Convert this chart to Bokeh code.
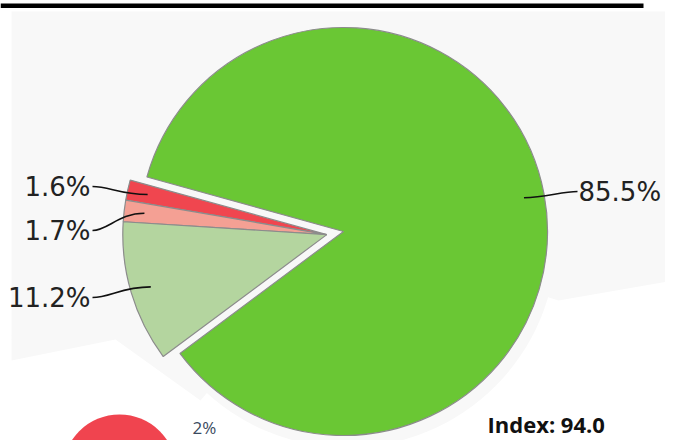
import math
from bokeh.plotting import figure
from bokeh.models import Range1d
from bokeh.core.properties import value
from bokeh.embed import file_html
from bokeh.resources import INLINE

# ---- data ----
slice_labels = ["1.6%", "1.7%", "11.2%", "85.5%"]
slice_shares = [1.6, 1.7, 11.2, 85.5]
slice_colors = ["#f0464f", "#f4a094", "#b4d59f", "#6ac734"]
slice_exploded = [True, True, True, False]
badge_text = "2%"
index_text = "Index: 94.0"

# ---- layout (picture pixel coordinates, y measured downward) ----
W, H = 665, 440


def Y(py):
    return H - py


START_DEG = 164.5
CX, CY, R = 343, 231, 204
EXPLODE = 17
label_y = {"1.6%": 186, "1.7%": 230, "11.2%": 297, "85.5%": 191}
LEFT_END_X, RIGHT_END_X = 92, 577

p = figure(width=W, height=H, x_range=Range1d(0, W), y_range=Range1d(0, H),
           output_backend="svg", toolbar_location=None, min_border=0,
           x_axis_type=None, y_axis_type=None)
p.grid.visible = False
p.outline_line_color = None
p.background_fill_color = "white"
p.border_fill_color = "white"

# background panel with shadow
bg_x = [11, 673, 673, 558, 343, 200, 115, 11]
bg_y = [Y(v) for v in [11, 11, 280, 300, 232, 400, 339, 360]]
p.patch(bg_x, bg_y, fill_color="#f8f8f8", line_color=None)
p.circle(x=[347], y=[Y(238)], radius=209, fill_color="#f8f8f8", line_color=None)

# top black bar
p.quad(left=[0], right=[643], top=[Y(3)], bottom=[Y(7.5)], fill_color="black", line_color=None)

# ---- pie ----
total = sum(slice_shares)
exp_total = sum(s for s, e in zip(slice_shares, slice_exploded) if e)
group_mid = math.radians(START_DEG + 360 * exp_total / total / 2)
ex_dx = EXPLODE * math.cos(group_mid)
ex_dy = EXPLODE * math.sin(group_mid)

acc = START_DEG
for lab, share, col, ex in zip(slice_labels, slice_shares, slice_colors, slice_exploded):
    span = 360 * share / total
    a0, a1 = acc, acc + span
    acc = a1
    cx = CX + (ex_dx if ex else 0)
    cy = Y(CY) + (ex_dy if ex else 0)
    p.wedge(x=[cx], y=[cy], radius=R, start_angle=math.radians(a0), end_angle=math.radians(a1),
            direction="anticlock", fill_color=col, line_color="#8c8c8c", line_width=1.2)
    mid = math.radians((a0 + a1) / 2)
    ax = cx + 0.9 * R * math.cos(mid)
    ay = cy + 0.9 * R * math.sin(mid)
    ly = Y(label_y[lab])
    if math.cos(mid) > 0:
        ex_x = RIGHT_END_X
        p.bezier(x0=[ax], y0=[ay], x1=[ex_x], y1=[ly], cx0=[ax + 0.4 * (ex_x - ax)], cy0=[ay],
                 cx1=[ex_x - 0.3 * (ex_x - ax)], cy1=[ly], line_color="#111111", line_width=1.6)
        p.text(x=[ex_x + 1], y=[ly], text=[lab], text_font=value("DejaVu Sans"), text_font_size="26px",
               text_align="left", text_baseline="middle", text_color="#222222")
    else:
        ex_x = LEFT_END_X
        p.bezier(x0=[ax], y0=[ay], x1=[ex_x], y1=[ly], cx0=[ax - 0.5 * (ax - ex_x)], cy0=[ay],
                 cx1=[ex_x + 0.3 * (ax - ex_x)], cy1=[ly], line_color="#111111", line_width=1.6)
        p.text(x=[ex_x - 2], y=[ly], text=[lab], text_font=value("DejaVu Sans"), text_font_size="26px",
               text_align="right", text_baseline="middle", text_color="#222222")

# ---- bottom decorations ----
p.circle(x=[119], y=[Y(471)], radius=57, fill_color="#f0444f", line_color=None)
p.text(x=[192], y=[Y(438)], text=[badge_text], text_font=value("Open Sans"), text_font_size="17px",
       text_align="left", text_baseline="bottom", text_color="#3a4a5e")
p.text(x=[487], y=[Y(438)], text=[index_text], text_font=value("Open Sans"), text_font_size="22px",
       text_font_style="bold", text_align="left", text_baseline="bottom", text_color="#111111")

open("out.html", "w").write(file_html(p, INLINE))
